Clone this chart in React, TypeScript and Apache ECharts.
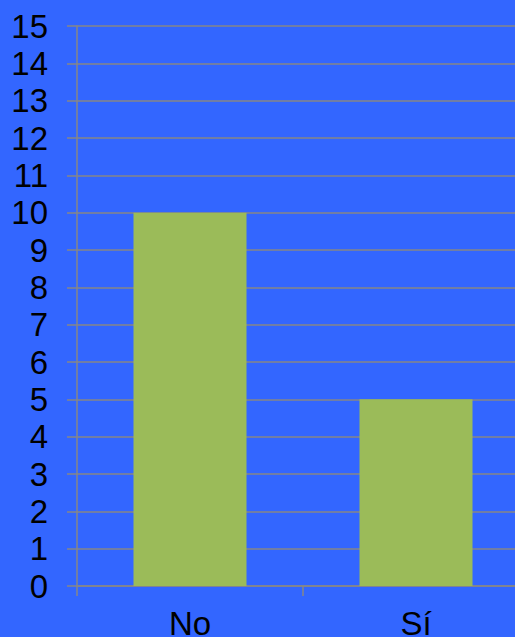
import React, { useEffect, useRef } from "react";
import * as echarts from "echarts";

const categories = ["No", "Sí"];
const values = [10, 5];
const yMin = 0;
const yMax = 15;
const yInterval = 1;

export default function App() {
  const ref = useRef<HTMLDivElement>(null);
  useEffect(() => {
    if (!ref.current) return;
    const chart = echarts.init(ref.current, undefined, { renderer: "svg" });
    const gray = "#878787";
    const font = "Liberation Sans, Arial, sans-serif";
    chart.setOption({
      animation: false,
      backgroundColor: "#3366FF",
      textStyle: { fontFamily: font },
      grid: {
        left: 77,
        top: 26,
        bottom: 51,
        right: 0,
        containLabel: false,
        outerBoundsMode: "none",
      },
      xAxis: {
        type: "category",
        data: categories,
        axisLine: { show: true, lineStyle: { color: gray, width: 1.5 } },
        axisTick: { show: true, length: 10, alignWithLabel: false, lineStyle: { color: gray, width: 1.5 } },
        axisLabel: { color: "#000", fontSize: 33, margin: 21, fontFamily: font },
        splitLine: { show: false },
      },
      yAxis: {
        type: "value",
        min: yMin,
        max: yMax,
        interval: yInterval,
        axisLine: { show: true, lineStyle: { color: gray, width: 1.5 } },
        axisTick: { show: true, length: 10, lineStyle: { color: gray, width: 1.5 } },
        axisLabel: { color: "#000", fontSize: 33, margin: 29, fontFamily: font },
        splitLine: { show: true, lineStyle: { color: gray, width: 1.5 } },
      },
      series: [
        {
          type: "bar",
          data: values,
          barWidth: "50%",
          itemStyle: { color: "#9BBB59" },
        },
      ],
    });
    return () => chart.dispose();
  }, []);
  return (
    <div
      style={{
        position: "fixed",
        left: 0,
        top: 0,
        width: 515,
        height: 637,
        overflow: "hidden",
        background: "#3366FF",
      }}
    >
      <div ref={ref} style={{ width: 529, height: 637 }} />
    </div>
  );
}
